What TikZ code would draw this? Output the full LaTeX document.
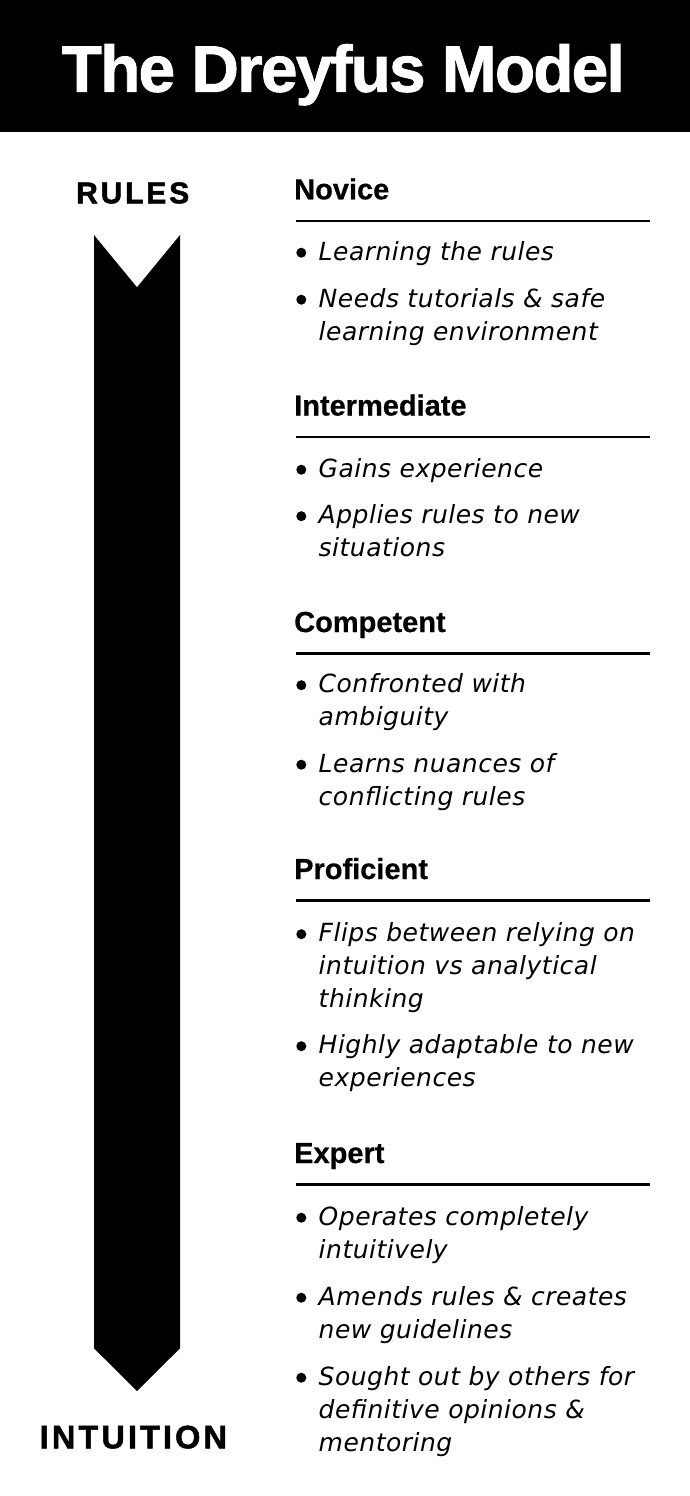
\documentclass[tikz,border=0pt]{standalone}
\usepackage{fontspec}
\newfontfamily\titlefont[LetterSpace=-2.6,FakeBold=1.4]{Liberation Sans}
\newfontfamily\headfont[FakeBold=0.6]{Liberation Sans}
\newfontfamily\capsfont[LetterSpace=9.5,FakeBold=1.6]{Liberation Sans}
\newfontfamily\itemfont[LetterSpace=2]{DejaVu Sans}

\tikzset{
  titletext/.style={anchor=base west, inner sep=0pt, text=white,
    font={\titlefont\bfseries\fontsize{65.6pt}{70pt}\selectfont}},
  endlabel/.style={anchor=base west, inner sep=0pt,
    font={\capsfont\bfseries\fontsize{#1}{#1}\selectfont}},
  stage/.style={anchor=base west, inner sep=0pt,
    font={\headfont\bfseries\fontsize{29pt}{33pt}\selectfont}},
  point/.style={anchor=base west, inner sep=0pt,
    font={\itemfont\itshape\fontsize{25pt}{33pt}\selectfont}},
  dot/.style={circle, fill=black, inner sep=0pt, minimum size=10pt},
  divider/.style={line width=2.4pt},
}

% one bullet point: #1 name, #2 first baseline, #3 text
\newcommand{\bulletpoint}[3]{%
  \node[dot] (#1-dot) at (301.3,#2-7.3) {};
  \node[point] (#1) at (318.5,#2) {\parbox[t]{340pt}{\raggedright #3}};
}
% one stage heading with its divider: #1 name, #2 baseline
\newcommand{\stagehead}[3]{%
  \node[stage] (#1) at (294,#2) {#3};
  \draw[divider] (295.7,#2+21.5) -- (650,#2+21.5);
}

\begin{document}
\begin{tikzpicture}[x=1pt,y=-1pt]
  \useasboundingbox (0,0) rectangle (690,1496);

  % header band
  \fill[black] (0,0) rectangle (690,132);
  \node[titletext] (title) at (61.6,91.7) {The Dreyfus Model};

  % progression arrow from rules to intuition
  \node[endlabel=30pt] (rules) at (76,203.3) {RULES};
  \fill[black] (94,235) -- (137,287.3) -- (180,235) -- (180,1348.3)
    -- (137,1391) -- (94,1348.3) -- cycle;
  \node[endlabel=32.5pt] (intuition) at (39.6,1448.3) {INTUITION};

  % Novice
  \stagehead{novice}{199.3}{Novice}
  \bulletpoint{nov1}{260}{Learning the rules}
  \bulletpoint{nov2}{307}{Needs tutorials \& safe\\learning environment}

  % Intermediate
  \stagehead{intermediate}{415.5}{Intermediate}
  \bulletpoint{int1}{477}{Gains experience}
  \bulletpoint{int2}{523.5}{Applies rules to new\\situations}

  % Competent
  \stagehead{competent}{632}{Competent}
  \bulletpoint{com1}{692.5}{Confronted with\\ambiguity}
  \bulletpoint{com2}{772}{Learns nuances of\\conflicting rules}

  % Proficient
  \stagehead{proficient}{879}{Proficient}
  \bulletpoint{pro1}{941.5}{Flips between relying on\\intuition vs analytical\\thinking}
  \bulletpoint{pro2}{1053.5}{Highly adaptable to new\\experiences}

  % Expert
  \stagehead{expert}{1163}{Expert}
  \bulletpoint{exp1}{1225}{Operates completely\\intuitively}
  \bulletpoint{exp2}{1305}{Amends rules \& creates\\new guidelines}
  \bulletpoint{exp3}{1385}{Sought out by others for\\definitive opinions \&\\mentoring}
\end{tikzpicture}
\end{document}
